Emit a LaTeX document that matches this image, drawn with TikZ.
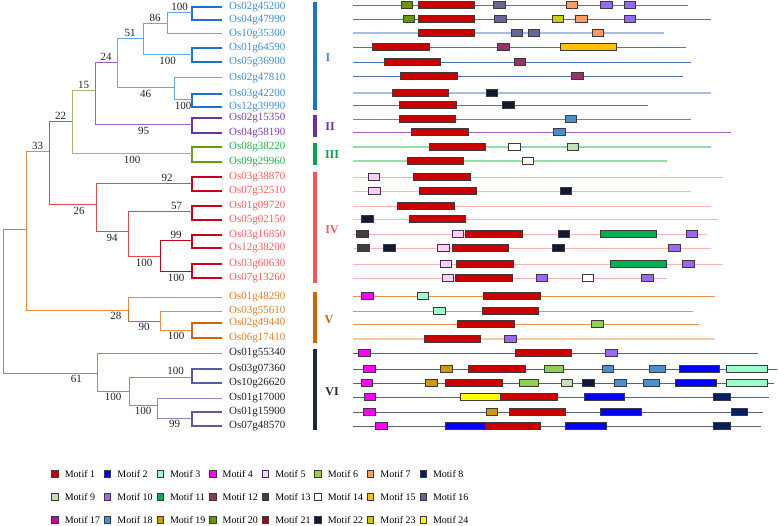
\documentclass[tikz,border=0pt]{standalone}
\usepackage{fontspec}
\setmainfont{Liberation Serif}
\usepackage{tikz}
\usetikzlibrary{positioning}
% clade text colours
\definecolor{cI}{HTML}{3B8EDB}
\definecolor{cII}{HTML}{7B3FB5}
\definecolor{cIII}{HTML}{1FB04E}
\definecolor{cIV}{HTML}{FF5A5F}
\definecolor{cV}{HTML}{E07E22}
\definecolor{cVI}{HTML}{1E2230}
% branch colours
\definecolor{bIdark}{HTML}{1A72CC}
\definecolor{bIlight}{HTML}{63A9E8}
\definecolor{bIIdark}{HTML}{7030A0}
\definecolor{bIIlight}{HTML}{9B5FC8}
\definecolor{bIIIdark}{HTML}{6A9A12}
\definecolor{bIIIlight}{HTML}{9CC066}
\definecolor{bIVdark}{HTML}{C8001A}
\definecolor{bIVlight}{HTML}{E04A4A}
\definecolor{bVdark}{HTML}{D06810}
\definecolor{bVlight}{HTML}{E88A3A}
\definecolor{bVIdark}{HTML}{5C5C9C}
\definecolor{bVIlight}{HTML}{8A8AC0}
% clade bars
\definecolor{barI}{HTML}{1874CD}
\definecolor{barII}{HTML}{7030A0}
\definecolor{barIII}{HTML}{00A650}
\definecolor{barIV}{HTML}{FF5555}
\definecolor{barV}{HTML}{CC6600}
\definecolor{barVI}{HTML}{1C2B3C}
% gene lines
\definecolor{lI}{HTML}{4E74B4}
\definecolor{lIlight}{HTML}{A9BDDC}
\definecolor{lII}{HTML}{9C64CC}
\definecolor{lIII}{HTML}{8FE0A9}
\definecolor{lIV}{HTML}{FFB3B3}
\definecolor{lV}{HTML}{E8924E}
\definecolor{lVlight}{HTML}{F2CBA5}
\definecolor{lVI}{HTML}{5A6478}
% motifs
\definecolor{m1}{HTML}{CC0000}
\definecolor{m2}{HTML}{0000FF}
\definecolor{m3}{HTML}{99FFCC}
\definecolor{m4}{HTML}{FF00FF}
\definecolor{m5}{HTML}{FFCCFF}
\definecolor{m6}{HTML}{92D050}
\definecolor{m7}{HTML}{FF9966}
\definecolor{m8}{HTML}{002060}
\definecolor{m9}{HTML}{C6E0B4}
\definecolor{m10}{HTML}{9966FF}
\definecolor{m11}{HTML}{00B050}
\definecolor{m12}{HTML}{993366}
\definecolor{m13}{HTML}{404040}
\definecolor{m14}{HTML}{FFFFFF}
\definecolor{m15}{HTML}{FFC000}
\definecolor{m16}{HTML}{666699}
\definecolor{m17}{HTML}{CC0099}
\definecolor{m18}{HTML}{4A90D0}
\definecolor{m19}{HTML}{CC9900}
\definecolor{m20}{HTML}{669900}
\definecolor{m21}{HTML}{A50021}
\definecolor{m22}{HTML}{0F1B33}
\definecolor{m23}{HTML}{CCCC00}
\definecolor{m24}{HTML}{FFFF00}
\definecolor{motifedge}{HTML}{3A3A3A}
\definecolor{boottext}{HTML}{222222}
\tikzset{
  branch/.style={line width=1pt},
  tipbranch/.style={line width=1.7pt},
  gene/.style={anchor=west, inner xsep=7pt, inner ysep=0pt, font=\fontsize{11}{13}\selectfont},
  boot/.style={font=\fontsize{11}{13}\selectfont, text=boottext, inner sep=1.5pt},
  cladebar/.style={line width=4pt},
  cladelab/.style={font=\fontsize{12}{14}\selectfont\bfseries},
  geneline/.style={line width=0.9pt},
  motif/.style={draw=motifedge, line width=0.8pt},
  legbox/.style={draw=motifedge, line width=0.8pt, minimum width=6.5pt,
                 minimum height=7.5pt, inner sep=0pt},
  legtext/.style={font=\fontsize{10}{12}\selectfont, inner sep=0pt}
}
% one gene structure row: y, end of line, line style, list of start/end/motif
\newcommand{\generow}[4]{%
  \draw[geneline,#3] (353,#1) -- (#2,#1);
  \foreach \a/\b/\c in {#4}{\draw[motif,fill=\c] (\a,#1-3.5) rectangle (\b,#1+3.5);}}

\begin{document}
\begin{tikzpicture}[x=1pt,y=-1pt]
  \useasboundingbox (0,0) rectangle (778,526);

  % gene names
  \node[gene,text=cI] (Os02g45200) at (222,7) {Os02g45200};
  \node[gene,text=cI] (Os04g47990) at (222,20) {Os04g47990};
  \node[gene,text=cI] (Os10g35300) at (222,34) {Os10g35300};
  \node[gene,text=cI] (Os01g64590) at (222,48) {Os01g64590};
  \node[gene,text=cI] (Os05g36900) at (222,62) {Os05g36900};
  \node[gene,text=cI] (Os02g47810) at (222,78) {Os02g47810};
  \node[gene,text=cI] (Os03g42200) at (222,94) {Os03g42200};
  \node[gene,text=cI] (Os12g39990) at (222,107) {Os12g39990};
  \node[gene,text=cII] (Os02g15350) at (222,118) {Os02g15350};
  \node[gene,text=cII] (Os04g58190) at (222,133) {Os04g58190};
  \node[gene,text=cIII] (Os08g38220) at (222,147) {Os08g38220};
  \node[gene,text=cIII] (Os09g29960) at (222,162) {Os09g29960};
  \node[gene,text=cIV] (Os03g38870) at (222,177) {Os03g38870};
  \node[gene,text=cIV] (Os07g32510) at (222,191) {Os07g32510};
  \node[gene,text=cIV] (Os01g09720) at (222,206) {Os01g09720};
  \node[gene,text=cIV] (Os05g02150) at (222,220) {Os05g02150};
  \node[gene,text=cIV] (Os03g16850) at (222,235) {Os03g16850};
  \node[gene,text=cIV] (Os12g38200) at (222,248) {Os12g38200};
  \node[gene,text=cIV] (Os03g60630) at (222,264) {Os03g60630};
  \node[gene,text=cIV] (Os07g13260) at (222,278) {Os07g13260};
  \node[gene,text=cV] (Os01g48290) at (222,297) {Os01g48290};
  \node[gene,text=cV] (Os03g55610) at (222,311) {Os03g55610};
  \node[gene,text=cV] (Os02g49440) at (222,323) {Os02g49440};
  \node[gene,text=cV] (Os06g17410) at (222,338) {Os06g17410};
  \node[gene,text=cVI] (Os01g55340) at (222,353) {Os01g55340};
  \node[gene,text=cVI] (Os03g07360) at (222,369) {Os03g07360};
  \node[gene,text=cVI] (Os10g26620) at (222,383) {Os10g26620};
  \node[gene,text=cVI] (Os01g17000) at (222,398) {Os01g17000};
  \node[gene,text=cVI] (Os01g15900) at (222,412) {Os01g15900};
  \node[gene,text=cVI] (Os07g48570) at (222,426) {Os07g48570};

  % inner nodes of the tree
  \coordinate (root) at (3,301);
  \coordinate (nOut) at (26,230);
  \coordinate (n33) at (49,152);
  \coordinate (n22) at (72,122);
  \coordinate (n15) at (95,91);
  \coordinate (n24) at (117,63);
  \coordinate (n51) at (143,39);
  \coordinate (n86) at (167,24);
  \coordinate (nA) at (192,13);
  \coordinate (nB) at (192,55);
  \coordinate (n46) at (174,88);
  \coordinate (nC) at (192,100);
  \coordinate (nII) at (192,125);
  \coordinate (nIII) at (192,154);
  \coordinate (n26) at (96,205);
  \coordinate (nD) at (192,184);
  \coordinate (n94) at (128,232);
  \coordinate (nE) at (192,212);
  \coordinate (nH) at (160,257);
  \coordinate (nF) at (192,241);
  \coordinate (nG) at (192,272);
  \coordinate (n28) at (128,310);
  \coordinate (n90) at (160,321);
  \coordinate (nI) at (192,330);
  \coordinate (n61) at (97,373);
  \coordinate (nM) at (129,391);
  \coordinate (nJ) at (192,377);
  \coordinate (nL) at (157,405);
  \coordinate (nK) at (192,418);

  % clade I
  \draw[tipbranch,bIdark] (nA) |- (Os02g45200.west);
  \draw[tipbranch,bIdark] (nA) |- (Os04g47990.west);
  \draw[branch,bIlight] (n86) |- node[boot,above,pos=.75] {100} (nA);
  \draw[branch,bIlight] (n86) |- (Os10g35300.west);
  \draw[branch,bIlight] (n51) |- node[boot,above,pos=.75] {86} (n86);
  \draw[tipbranch,bIdark] (nB) |- (Os01g64590.west);
  \draw[tipbranch,bIdark] (nB) |- (Os05g36900.west);
  \draw[branch,bIlight] (n51) |- node[boot,below,pos=.75] {100} (nB);
  \draw[branch,bIlight] (n24) |- node[boot,above,pos=.75] {51} (n51);
  \draw[tipbranch,bIdark] (nC) |- (Os03g42200.west);
  \draw[tipbranch,bIdark] (nC) |- (Os12g39990.west);
  \draw[branch,bIlight] (n46) |- (Os02g47810.west);
  \draw[branch,bIlight] (n46) |- node[boot,below,pos=.75] {100} (nC);
  \draw[branch,bIlight] (n24) |- node[boot,below,pos=.75] {46} (n46);
  % clade II and III
  \draw[branch,bIIlight] (n15) |- node[boot,above,pos=.75] {24} (n24);
  \draw[tipbranch,bIIdark] (nII) |- (Os02g15350.west);
  \draw[tipbranch,bIIdark] (nII) |- (Os04g58190.west);
  \draw[branch,bIIlight] (n15) |- node[boot,below,pos=.75] {95} (nII);
  \draw[branch,bIIIlight] (n22) |- node[boot,above,pos=.75] {15} (n15);
  \draw[tipbranch,bIIIdark] (nIII) |- (Os08g38220.west);
  \draw[tipbranch,bIIIdark] (nIII) |- (Os09g29960.west);
  \draw[branch,bIIIlight] (n22) |- node[boot,below,pos=.75] {100} (nIII);
  % clade IV
  \draw[branch,bIVlight] (n33) |- node[boot,above,pos=.75] {22} (n22);
  \draw[branch,bIVlight] (n33) |- node[boot,below,pos=.82] {26} (n26);
  \draw[tipbranch,bIVdark] (nD) |- (Os03g38870.west);
  \draw[tipbranch,bIVdark] (nD) |- (Os07g32510.west);
  \draw[branch,bIVlight] (n26) |- node[boot,above,pos=.87] {92} (nD);
  \draw[branch,bIVlight] (n26) |- node[boot,below,pos=.75] {94} (n94);
  \draw[tipbranch,bIVdark] (nE) |- (Os01g09720.west);
  \draw[tipbranch,bIVdark] (nE) |- (Os05g02150.west);
  \draw[branch,bIVlight] (n94) |- node[boot,above,pos=.88] {57} (nE);
  \draw[branch,bIVlight] (n94) |- node[boot,below,pos=.75] {100} (nH);
  \draw[tipbranch,bIVdark] (nF) |- (Os03g16850.west);
  \draw[tipbranch,bIVdark] (nF) |- (Os12g38200.west);
  \draw[branch,bIVdark] (nH) |- node[boot,above,pos=.75] {99} (nF);
  \draw[tipbranch,bIVdark] (nG) |- (Os03g60630.west);
  \draw[tipbranch,bIVdark] (nG) |- (Os07g13260.west);
  \draw[branch,bIVdark] (nH) |- node[boot,below,pos=.75] {100} (nG);
  % clade V
  \draw[branch,bVlight] (nOut) |- node[boot,above,pos=.75] {33} (n33);
  \draw[branch,bVlight] (nOut) |- node[boot,below,pos=.94] {28} (n28);
  \draw[branch,bVlight] (n28) |- (Os01g48290.west);
  \draw[branch,bVdark] (n28) |- node[boot,below,pos=.75] {90} (n90);
  \draw[branch,bVlight] (n90) |- (Os03g55610.west);
  \draw[branch,bVlight] (n90) |- node[boot,below,pos=.75] {100} (nI);
  \draw[tipbranch,bVdark] (nI) |- (Os02g49440.west);
  \draw[tipbranch,bVdark] (nI) |- (Os06g17410.west);
  % clade VI
  \draw[branch,bVIlight] (root) |- (nOut);
  \draw[branch,bVIlight] (root) |- node[boot,below,pos=.89] {61} (n61);
  \draw[branch,bVIlight] (n61) |- (Os01g55340.west);
  \draw[branch,bVIlight] (n61) |- node[boot,below,pos=.75] {100} (nM);
  \draw[branch,bVIlight] (nM) |- node[boot,above,pos=.87] {100} (nJ);
  \draw[branch,bVIlight] (nM) |- node[boot,below,pos=.75] {100} (nL);
  \draw[tipbranch,bVIdark] (nJ) |- (Os03g07360.west);
  \draw[tipbranch,bVIdark] (nJ) |- (Os10g26620.west);
  \draw[branch,bVIlight] (nL) |- (Os01g17000.west);
  \draw[branch,bVIlight] (nL) |- node[boot,below,pos=.75] {99} (nK);
  \draw[tipbranch,bVIdark] (nK) |- (Os01g15900.west);
  \draw[tipbranch,bVIdark] (nK) |- (Os07g48570.west);

  % clade bars
  \draw[cladebar,barI] (315,2) -- (315,110);
  \draw[cladebar,barII] (315,115) -- (315,137);
  \draw[cladebar,barIII] (315,143) -- (315,165);
  \draw[cladebar,barIV] (315,172) -- (315,283);
  \draw[cladebar,barV] (315,292) -- (315,343);
  \draw[cladebar,barVI] (315,349) -- (315,430);
  \node[cladelab,text=cI] (cladeI) at (328,58) {I};
  \node[cladelab,text=barII] (cladeII) at (330,127) {II};
  \node[cladelab,text=barIII] (cladeIII) at (332,155) {III};
  \node[cladelab,text=cIV] (cladeIV) at (332,230) {IV};
  \node[cladelab,text=barV] (cladeV) at (329,320) {V};
  \node[cladelab,text=barVI] (cladeVI) at (332,392) {VI};

  % gene structures
  \generow{5}{688}{lI}{401/412/m20, 418/474/m1, 493/505/m16, 566/577/m7, 600/612/m10, 624/635/m10}
  \generow{19}{711}{lI}{403/414/m20, 418/474/m1, 494/506/m16, 552/563/m23, 575/587/m7, 624/635/m10}
  \generow{33}{664}{lIlight,line width=1.5pt}{418/474/m1, 511/522/m16, 528/539/m16, 592/603/m7}
  \generow{47}{686}{lI}{372/429/m1, 497/509/m12, 560/616/m15}
  \generow{62}{691}{lI}{384/440/m1, 514/525/m12}
  \generow{76}{683}{lI}{400/457/m1, 571/583/m12}
  \generow{93}{711}{lIlight,line width=1.5pt}{392/448/m1, 486/497/m22}
  \generow{105}{648}{lI}{399/456/m1, 502/514/m22}
  \generow{119}{691}{lII}{399/455/m1, 565/576/m18}
  \generow{132}{731}{lII}{411/468/m1, 553/565/m18}
  \generow{147}{711}{lIII,line width=1.4pt}{429/485/m1, 508/520/m14, 567/578/m9}
  \generow{161}{667}{lIII,line width=1.4pt}{407/463/m1, 522/533/m14}
  \generow{177}{723}{lIV}{368/379/m5, 413/470/m1}
  \generow{191}{691}{lIV}{368/380/m5, 419/476/m1, 560/571/m22}
  \generow{206}{711}{lIV}{397/454/m1}
  \generow{219}{718}{lIV}{361/373/m22, 409/465/m1}
  \generow{234}{707}{lIV}{356/368/m13, 452/463/m5, 465/522/m1, 558/569/m22, 600/656/m11, 686/697/m10}
  \generow{248}{711}{lIV}{357/369/m13, 383/395/m22, 437/449/m5, 452/508/m1, 552/564/m22, 668/680/m10}
  \generow{264}{723}{lIV}{440/451/m5, 456/513/m1, 610/666/m11, 682/694/m10}
  \generow{278}{667}{lIV}{442/453/m5, 455/512/m1, 536/547/m10, 582/593/m14, 641/653/m10}
  \generow{296}{715}{lV}{361/373/m4, 417/428/m3, 483/540/m1}
  \generow{311}{693}{lV}{433/445/m3, 482/538/m1}
  \generow{324}{699}{lV}{457/514/m1, 591/603/m6}
  \generow{339}{715}{lVlight,line width=2pt}{424/480/m1, 504/516/m10}
  \generow{353}{758}{lVI}{358/370/m4, 515/571/m1, 605/617/m10}
  \generow{369}{777}{lVI}{363/375/m4, 440/452/m19, 468/525/m1, 544/563/m6, 602/613/m18, 649/665/m18, 679/719/m2, 726/767/m3}
  \generow{383}{774}{lVI}{361/372/m4, 425/437/m19, 445/502/m1, 519/538/m6, 561/572/m9, 582/594/m22, 614/626/m18, 643/659/m18, 675/716/m2, 726/767/m3}
  \generow{397}{769}{lVI}{364/375/m4, 460/500/m24, 500/557/m1, 584/624/m2, 713/730/m8}
  \generow{412}{763}{lVI}{363/375/m4, 486/497/m19, 509/565/m1, 600/641/m2, 731/747/m8}
  \generow{426}{761}{lVI}{375/387/m4, 445/485/m2, 485/540/m1, 565/606/m2, 713/730/m8}

  % legend
  \foreach \n in {1,...,24}{
    \pgfmathtruncatemacro{\col}{mod(\n-1,8)}
    \pgfmathtruncatemacro{\row}{div(\n-1,8)}
    \node[legbox,fill=m\n] (leg\n) at ({55+52.6*\col},{474+23*\row}) {};
    \node[legtext,right=6pt of leg\n] (legtext\n) {Motif \n};
  }
\end{tikzpicture}
\end{document}
